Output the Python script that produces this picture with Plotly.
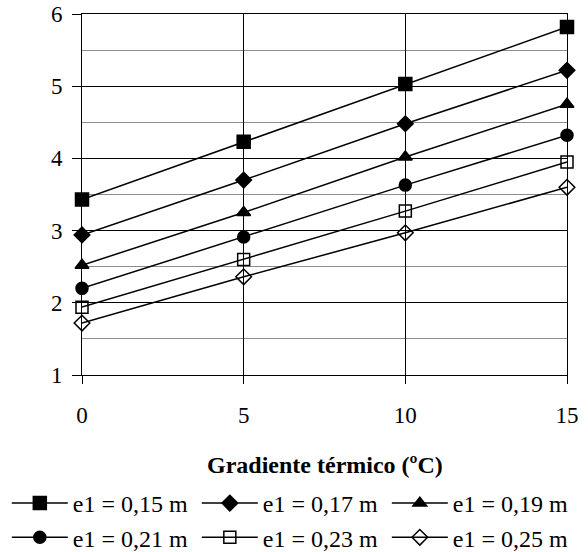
import plotly.graph_objects as go

# Gradiente térmico (ºC)
gradiente = [0, 5, 10, 15]

# One series per layer thickness e1
series_names = ["e1 = 0,15 m", "e1 = 0,17 m", "e1 = 0,19 m",
                "e1 = 0,21 m", "e1 = 0,23 m", "e1 = 0,25 m"]
e1_015 = [3.43, 4.23, 5.03, 5.82]
e1_017 = [2.94, 3.70, 4.48, 5.22]
e1_019 = [2.52, 3.25, 4.02, 4.75]
e1_021 = [2.20, 2.91, 3.63, 4.32]
e1_023 = [1.94, 2.60, 3.27, 3.95]
e1_025 = [1.72, 2.36, 2.97, 3.60]
series_values = [e1_015, e1_017, e1_019, e1_021, e1_023, e1_025]

symbols = ["square", "diamond", "triangle-up", "circle", "square-open", "diamond-open"]
sizes = [13, 12, 12, 12, 12, 12]

FONT = "Times New Roman, Liberation Serif, DejaVu Serif, serif"

fig = go.Figure()
for name, vals, sym, sz in zip(series_names, series_values, symbols, sizes):
    fig.add_trace(go.Scatter(
        x=gradiente, y=vals, name=name, mode="lines+markers",
        line=dict(color="black", width=1.5),
        marker=dict(symbol=sym, size=sz, color="black",
                    line=dict(color="black", width=1.5)),
        cliponaxis=False,
    ))

fig.update_layout(
    template="none",
    width=588, height=552,
    margin=dict(l=82, r=21, t=14, b=177, autoexpand=False),
    paper_bgcolor="white", plot_bgcolor="white",
    font=dict(family=FONT, size=23, color="black"),
    showlegend=True,
    legend=dict(
        orientation="h", x=-0.155, xanchor="left", y=-0.5125, yanchor="bottom",
        entrywidth=119, entrywidthmode="pixels",
        font=dict(family=FONT, size=24, color="black"),
        tracegroupgap=0, itemwidth=56,
        bgcolor="rgba(0,0,0,0)",
    ),
    annotations=[dict(
        text="<b>Gradiente térmico (ºC)</b>", x=0.5, xref="paper",
        y=-0.249, yref="paper", yanchor="middle", showarrow=False,
        font=dict(family=FONT, size=24, color="black"),
    )],
)

fig.update_xaxes(
    range=[0, 15], tickvals=gradiente, ticks="outside", ticklen=8,
    tickcolor="black", showline=True, linecolor="black", linewidth=1,
    mirror=True, showgrid=True, gridcolor="black", gridwidth=1,
    zeroline=False, ticklabelstandoff=11, automargin=False,
    tickfont=dict(family=FONT, size=23, color="black"),
)
fig.update_yaxes(
    range=[1, 6], dtick=1, ticks="outside", ticklen=9,
    tickcolor="black", showline=True, linecolor="black", linewidth=1,
    mirror=True, showgrid=True, gridcolor="black", gridwidth=1,
    zeroline=False, ticklabelstandoff=5, automargin=False,
    minor=dict(dtick=0.5, showgrid=True, gridcolor="#8c8c8c", gridwidth=1),
    tickfont=dict(family=FONT, size=23, color="black"),
)

fig.write_html("out.html")
